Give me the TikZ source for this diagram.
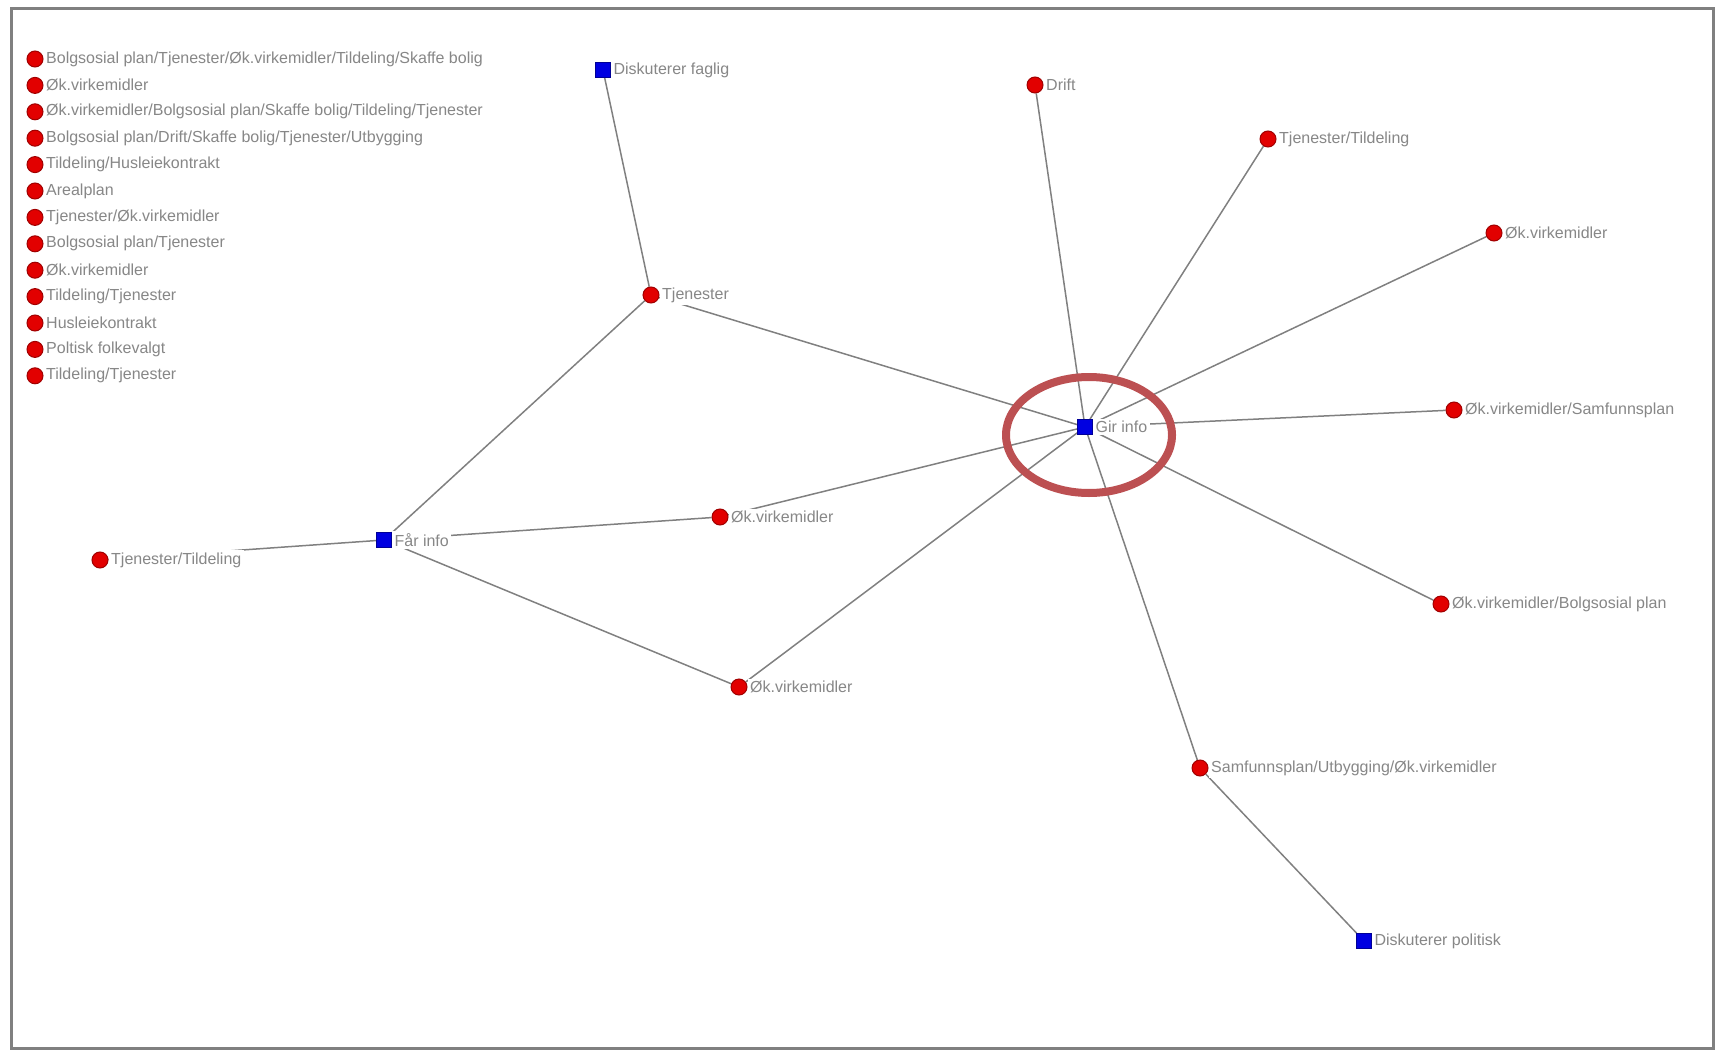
\documentclass[tikz,border=0pt]{standalone}
\usepackage{fontspec}
\setmainfont{Liberation Sans}
\usetikzlibrary{positioning}
\pgfdeclarelayer{bg}
\pgfsetlayers{bg,main}
\definecolor{codered}{RGB}{226,0,0}
\definecolor{codeedge}{RGB}{160,0,0}
\definecolor{actorblue}{RGB}{0,0,225}
\definecolor{actoredge}{RGB}{0,0,150}
\definecolor{tiegray}{RGB}{128,128,128}
\definecolor{labgray}{RGB}{135,135,135}
\definecolor{ringred}{RGB}{188,80,82}

\tikzset{
  code/.style={circle,fill=codered,draw=codeedge,line width=1pt,minimum size=16pt,inner sep=0pt},
  actor/.style={rectangle,fill=actorblue,draw=actoredge,line width=0.8pt,minimum size=15pt,inner sep=0pt},
  lab/.style={text=labgray,fill=white,inner sep=2.5pt,font=\fontsize{16}{18}\selectfont},
  tie/.style={draw=tiegray,line width=1.5pt},
}

\begin{document}
\begin{tikzpicture}[x=1pt,y=-1pt]
\useasboundingbox (0,0) rectangle (1715,1051);
\draw[tiegray,line width=3pt] (11,9) rectangle (1713,1048);

% codes that stand alone
\foreach \t [count=\i] in {Bolgsosial plan/Tjenester/Øk.virkemidler/Tildeling/Skaffe bolig,
  Øk.virkemidler,
  Øk.virkemidler/Bolgsosial plan/Skaffe bolig/Tildeling/Tjenester,
  Bolgsosial plan/Drift/Skaffe bolig/Tjenester/Utbygging,
  Tildeling/Husleiekontrakt,
  Arealplan,
  Tjenester/Øk.virkemidler,
  Bolgsosial plan/Tjenester,
  Øk.virkemidler,
  Tildeling/Tjenester,
  Husleiekontrakt,
  Poltisk folkevalgt,
  Tildeling/Tjenester}
{
  \node[code] (free\i) at (35,{59+26.4*(\i-1)}) {};
  \node[lab,right=0pt of free\i] {\t};
}

% actors
\node[actor] (faglig) at (603,70) {};
\node[actor] (girinfo) at (1085,427) {};
\node[actor] (farinfo) at (384,540) {};
\node[actor] (politisk) at (1364,941) {};

% codes
\node[code] (tjen) at (651,295) {};
\node[code] (drift) at (1035,85) {};
\node[code] (tjtil) at (1268,139) {};
\node[code] (okA) at (1494,233) {};
\node[code] (oksamf) at (1454,410) {};
\node[code] (okbolig) at (1441,604) {};
\node[code] (samf) at (1200,768) {};
\node[code] (okB) at (720,517) {};
\node[code] (okC) at (739,687) {};
\node[code] (tjtilL) at (100,560) {};

\begin{pgfonlayer}{bg}
\draw[tie] (faglig) -- (tjen);
\draw[tie] (tjen) -- (farinfo);
\draw[tie] (tjen) -- (girinfo);
\draw[tie] (drift) -- (girinfo);
\draw[tie] (tjtil) -- (girinfo);
\draw[tie] (okA) -- (girinfo);
\draw[tie] (oksamf) -- (girinfo);
\draw[tie] (okbolig) -- (girinfo);
\draw[tie] (samf) -- (girinfo);
\draw[tie] (samf) -- (politisk);
\draw[tie] (okB) -- (girinfo);
\draw[tie] (okB) -- (farinfo);
\draw[tie] (okC) -- (farinfo);
\draw[tie] (okC) -- (girinfo);
\draw[tie] (tjtilL) -- (farinfo);
\end{pgfonlayer}

% labels
\node[lab,right=0pt of faglig] {Diskuterer faglig};
\node[lab,right=0pt of girinfo] {Gir info};
\node[lab,right=0pt of farinfo] {Får info};
\node[lab,right=0pt of politisk] {Diskuterer politisk};
\node[lab,right=0pt of tjen] {Tjenester};
\node[lab,right=0pt of drift] {Drift};
\node[lab,right=0pt of tjtil] {Tjenester/Tildeling};
\node[lab,right=0pt of okA] {Øk.virkemidler};
\node[lab,right=0pt of oksamf] {Øk.virkemidler/Samfunnsplan};
\node[lab,right=0pt of okbolig] {Øk.virkemidler/Bolgsosial plan};
\node[lab,right=0pt of samf] {Samfunnsplan/Utbygging/Øk.virkemidler};
\node[lab,right=0pt of okB] {Øk.virkemidler};
\node[lab,right=0pt of okC] {Øk.virkemidler};
\node[lab,right=0pt of tjtilL] {Tjenester/Tildeling};

\draw[ringred,line width=8pt] (1089,435) ellipse [x radius=83,y radius=58];
\end{tikzpicture}
\end{document}
